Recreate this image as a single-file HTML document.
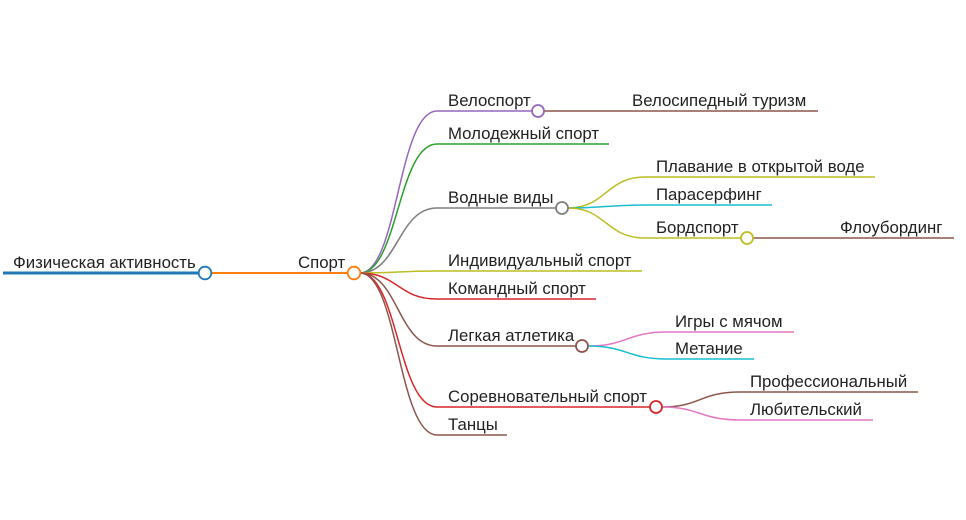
<!DOCTYPE html>
<html><head><meta charset="utf-8"><style>
html,body{margin:0;padding:0;background:#fff;}
svg{display:block}
text{font-family:"Liberation Sans",Arial,sans-serif;font-size:16.8px;fill:#222;}
</style></head><body>
<svg width="966" height="520" viewBox="0 0 966 520" xmlns="http://www.w3.org/2000/svg" fill="none">
<line x1="3" y1="273" x2="199" y2="273" stroke="#1f77b4" stroke-width="3"/>
<line x1="211" y1="273" x2="348" y2="273" stroke="#ff7f0e" stroke-width="2"/>
<g stroke-width="1.5">
<path d="M360 273 C398 273,398 111,437 111 L532 111" stroke="#9467bd"/>
<path d="M360 273 C398 273,398 144,437 144 L609 144" stroke="#2ca02c"/>
<path d="M360 273 C398 273,398 208,437 208 L556 208" stroke="#7f7f7f"/>
<path d="M360 273 C398 273,398 271,437 271 L642 271" stroke="#bcbd22"/>
<path d="M360 273 C398 273,398 299,437 299 L596 299" stroke="#d62728"/>
<path d="M360 273 C398 273,398 346,437 346 L576 346" stroke="#8c564b"/>
<path d="M360 273 C398 273,398 407,437 407 L650 407" stroke="#d62728"/>
<path d="M360 273 C398 273,398 435,437 435 L507 435" stroke="#8c564b"/>
<line x1="544" y1="111" x2="818" y2="111" stroke="#8c564b"/>
<path d="M568 208 C606 208,606 177,645 177 L875 177" stroke="#bcbd22"/>
<path d="M568 208 C606 208,606 205,645 205 L772 205" stroke="#17becf"/>
<path d="M568 208 C606 208,606 238,645 238 L741 238" stroke="#bcbd22"/>
<line x1="753" y1="238" x2="954" y2="238" stroke="#8c564b"/>
<path d="M588 346 C627 346,627 332,667 332 L794 332" stroke="#e377c2"/>
<path d="M588 346 C627 346,627 359,667 359 L754 359" stroke="#17becf"/>
<path d="M662 407 C700 407,700 392,740 392 L918 392" stroke="#8c564b"/>
<path d="M662 407 C700 407,700 420,740 420 L873 420" stroke="#e377c2"/>
</g>
<g fill="#fff" stroke-width="1.8">
<circle cx="205" cy="273" r="6.3" stroke="#1f77b4"/>
<circle cx="354" cy="273" r="6.3" stroke="#ff7f0e"/>
<circle cx="538" cy="111" r="6" stroke="#9467bd"/>
<circle cx="562" cy="208" r="6" stroke="#7f7f7f"/>
<circle cx="747" cy="238" r="6" stroke="#bcbd22"/>
<circle cx="582" cy="346" r="6" stroke="#8c564b"/>
<circle cx="656" cy="407" r="6" stroke="#d62728"/>
</g>
<text x="13" y="268">Физическая активность</text>
<text x="298" y="268">Спорт</text>
<text x="448" y="106">Велоспорт</text>
<text x="632" y="106">Велосипедный туризм</text>
<text x="448" y="139">Молодежный спорт</text>
<text x="448" y="203">Водные виды</text>
<text x="656" y="172">Плавание в открытой воде</text>
<text x="656" y="200">Парасерфинг</text>
<text x="656" y="233">Бордспорт</text>
<text x="840" y="233">Флоубординг</text>
<text x="448" y="266">Индивидуальный спорт</text>
<text x="448" y="294">Командный спорт</text>
<text x="448" y="341">Легкая атлетика</text>
<text x="675" y="327">Игры с мячом</text>
<text x="675" y="354">Метание</text>
<text x="448" y="402">Соревновательный спорт</text>
<text x="750" y="387">Профессиональный</text>
<text x="750" y="415">Любительский</text>
<text x="448" y="430">Танцы</text>
</svg>
</body></html>
